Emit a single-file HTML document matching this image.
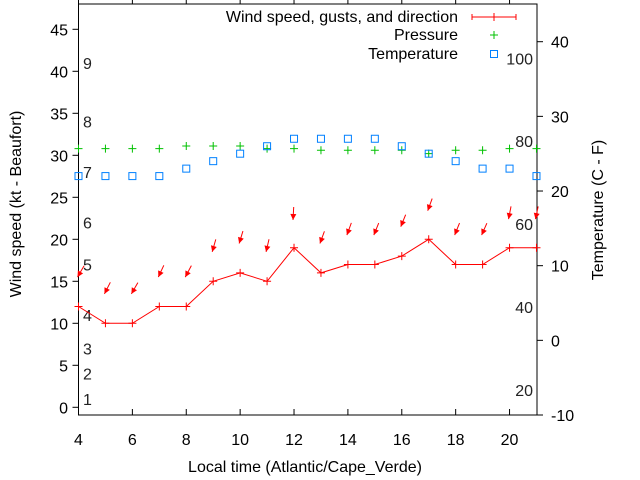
<!DOCTYPE html>
<html><head><meta charset="utf-8"><style>
body{margin:0;background:#fff}
svg{display:block;font-family:"Liberation Sans",sans-serif;font-size:16px}
</style></head><body>
<svg id="c" width="640" height="480">
<rect width="640" height="480" fill="#fff"/>
<g id="axes"></g><g id="marks"></g><g id="legend"></g>
</svg>
<script>
const hours=[4,5,6,7,8,9,10,11,12,13,14,15,16,17,18,19,20,21];
const windSpeed=[12,10,10,12,12,15,16,15,19,16,17,17,18,20,17,17,19,19];
const gusts=[15.5,13.5,13.5,15.5,15.5,18.5,19.5,18.5,22.3,19.5,20.5,20.5,21.5,23.4,20.5,20.5,22.4,22.4];
const windDir=[30,27,30,25,28,16,17,13,3,20,20,22,22,20,22,24,11,12];
const pressure=[30.8,30.8,30.8,30.8,31.1,31.1,31.1,30.8,30.8,30.6,30.6,30.6,30.6,30.2,30.6,30.6,30.8,30.8];
const temperature=[22,22,22,22,23,24,25,26,27,27,27,27,26,25,24,23,23,22];
const xTicks=[4,6,8,10,12,14,16,18,20];
const yTicks=[0,5,10,15,20,25,30,35,40,45];
const y2Ticks=[-10,0,10,20,30,40];
const beaufort=[1,2,3,4,5,6,7,8,9];
const beaufortKt=[1,4,7,11,17,22,28,34,41];
const fahrenheit=[20,40,60,80,100];

const L=78.5,R=537,T=4,B=415;
const X=h=>78.5+(h-4)*26.94;
const Y=v=>407.3-v*8.4;
const Y2=c=>415-(c+10)*7.466;
const NS="http://www.w3.org/2000/svg";
function mk(tag,attrs,parent,txt){const e=document.createElementNS(NS,tag);for(const k in attrs)e.setAttribute(k,attrs[k]);if(txt!==undefined)e.textContent=txt;parent.appendChild(e);return e;}
const ax=document.getElementById('axes'),mg=document.getElementById('marks'),lg=document.getElementById('legend');

let fr=mk('rect',{x:L,y:T,width:R-L,height:B-T,fill:'none',stroke:'#000','stroke-width':1},ax);


xTicks.forEach(h=>{
  const x=X(h);
  mk('line',{x1:x,y1:B,x2:x,y2:B-6,stroke:'#000'},ax);
  mk('line',{x1:x,y1:T,x2:x,y2:T-6,stroke:'#000'},ax);
  const t=mk('text',{x:x,y:445,'text-anchor':'middle'},ax,h);
  
  
});
yTicks.forEach(v=>{
  const y=Y(v);
  mk('line',{x1:L-6,y1:y,x2:L,y2:y,stroke:'#000'},ax);
  const t=mk('text',{x:68,y:y+6,'text-anchor':'end'},ax,v);
  
  
});
y2Ticks.forEach(v=>{
  const y=Y2(v);
  mk('line',{x1:R,y1:y,x2:R+6,y2:y,stroke:'#000'},ax);
  const t=mk('text',{x:551,y:y+6},ax,v);
  
  
});
beaufort.forEach((b,i)=>{
  const t=mk('text',{x:83,y:Y(beaufortKt[i])+6,fill:'#222'},ax,b);
  
  
});
fahrenheit.forEach(f=>{
  const t=mk('text',{x:533,y:Y2((f-32)*5/9)+6,'text-anchor':'end',fill:'#222'},ax,f);
  
  
});
let t1=mk('text',{x:305,y:472,'text-anchor':'middle'},ax,'Local time (Atlantic/Cape_Verde)');


let t2=mk('text',{x:0,y:0,'text-anchor':'middle',transform:'translate(21,204) rotate(-90)'},ax,'Wind speed (kt - Beaufort)');


let t3=mk('text',{x:0,y:0,'text-anchor':'middle',transform:'translate(603,210) rotate(-90)'},ax,'Temperature (C - F)');



let pl=mk('polyline',{points:hours.map((h,i)=>X(h)+','+Y(windSpeed[i])).join(' '),fill:'none',stroke:'#f00','stroke-width':1},mg);


hours.forEach((h,i)=>{
  const x=X(h),y=Y(windSpeed[i]);
  const p=mk('path',{d:`M${x-4},${y}H${x+4}M${x},${y-4}V${y+4}`,stroke:'#f00'},mg);
  
  
  const hx=x-1,hy=Y(gusts[i]),a=windDir[i]*Math.PI/180,len=13;
  const ux=Math.sin(a),uy=-Math.cos(a);
  const tx=hx+ux*len,ty=hy+uy*len;
  const px=-uy,py=ux;
  const bx=hx+ux*6,by=hy+uy*6;
  const g=mk('g',{},mg);
  
  
  mk('line',{x1:tx,y1:ty,x2:hx,y2:hy,stroke:'#f00'},g);
  mk('path',{d:`M${hx},${hy}L${bx+px*3},${by+py*3}L${bx-px*3},${by-py*3}Z`,fill:'#f00'},g);
  const py2=Y(pressure[i]);
  const pp=mk('path',{d:`M${x-4},${py2}H${x+4}M${x},${py2-4}V${py2+4}`,stroke:'#00c000'},mg);
  
  
  const ty2=Y2(temperature[i]);
  const tr=mk('rect',{x:x-3.5,y:ty2-3.5,width:7,height:7,fill:'none',stroke:'#0080ff'},mg);
  
  
});

const le=[['Wind speed, gusts, and direction',17],['Pressure',35],['Temperature',54]];
le.forEach((e,i)=>{
  const g=mk('g',{},lg);
  
  
  mk('text',{x:458,y:e[1]+5,'text-anchor':'end'},g,e[0]);
  const y=e[1];
  if(i==0){mk('path',{d:`M472,${y}H516M472,${y-3}V${y+3}M516,${y-3}V${y+3}M494,${y-4}V${y+4}`,stroke:'#f00'},g);}
  if(i==1){mk('path',{d:`M490,${y}H498M494,${y-4}V${y+4}`,stroke:'#00c000'},g);}
  if(i==2){mk('rect',{x:490.5,y:y-3.5,width:7,height:7,fill:'none',stroke:'#0080ff'},g);}
});
</script>
</body></html>
